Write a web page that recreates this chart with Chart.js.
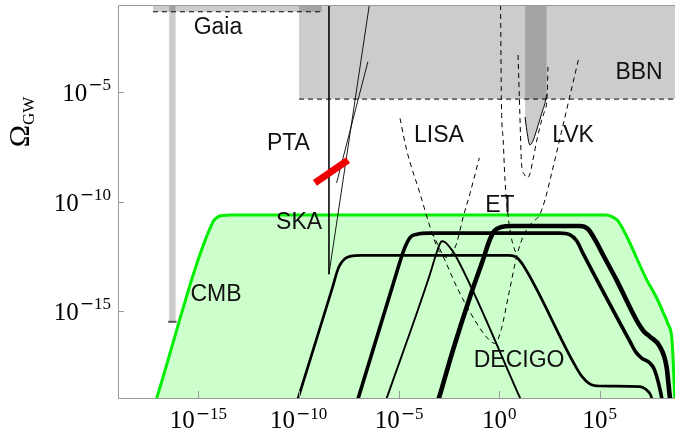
<!DOCTYPE html>
<html><head><meta charset="utf-8">
<script src="https://cdn.jsdelivr.net/npm/chart.js@4.4.1/dist/chart.umd.min.js"></script>
<style>html,body{margin:0;padding:0;background:#fff;}canvas{display:block;}</style>
</head><body>
<canvas id="c" width="675" height="430"></canvas>
<script>
// All values are log10(f / Hz) and log10(Omega_GW)
const xTickExp = [-15, -10, -5, 0, 5];
const yTickExp = [-15, -10, -5];

const cmbLogF = [-17.3, -17.07, -14.27, -14.07, -13.82, -13.42, 5.31, 5.6, 5.91, 7.35, 7.84, 8.15, 8.40, 8.60, 8.75, 8.8];
const cmbLogO = [-19.7, -19.0, -10.93, -10.73, -10.64, -10.62, -10.62, -10.69, -10.89, -13.6, -14.42, -15.06, -15.61, -16.34, -19.1, -19.7];

const s1LogF = [-10.2, -10.02, -8.35, -8.0, -7.7, -7.4, -6.9, 0.5, 0.86, 1.18, 3.67, 4.1, 4.5, 5.0, 7.0, 7.3, 7.5, 7.59, 7.7];
const s1LogO = [-19.55, -19.0, -14.05, -13.0, -12.62, -12.5, -12.47, -12.47, -12.56, -12.91, -17.34, -18.0, -18.35, -18.45, -18.48, -18.6, -18.8, -19.0, -19.5];

const s2LogF = [-7.2, -7.03, -5.2, -4.75, -4.45, -4.1, -3.5, 3.0, 3.5, 3.85, 4.18, 6.51, 6.8, 7.09, 7.5, 7.7, 7.84, 8.0, 8.09, 8.2];
const s2LogO = [-19.5, -19.0, -13.5, -12.2, -11.65, -11.5, -11.45, -11.45, -11.52, -11.8, -12.4, -16.42, -16.9, -17.17, -17.4, -17.65, -18.02, -18.6, -19.0, -19.6];

const s3LogF = [-5.8, -5.61, -3.5, -3.2, -3.0, -2.87, -2.7, -2.45, -2.2, 1.03, 1.25];
const s3LogO = [-19.5, -19.0, -13.45, -12.55, -12.02, -11.82, -11.87, -12.12, -12.45, -19.0, -19.45];

const s4LogF = [-3.2, -3.01, -2.31, -1.46, -0.82, -0.5, -0.25, 0.1, 0.6, 4.0, 4.4, 4.8, 5.17, 5.84, 6.91, 7.2, 7.5, 8.0, 8.33, 8.5, 8.6];
const s4LogO = [-19.55, -19.0, -16.8, -14.36, -12.68, -11.8, -11.35, -11.17, -11.12, -11.12, -11.25, -11.8, -12.45, -13.6, -15.56, -15.95, -16.19, -16.65, -17.57, -19.0, -19.6];

const lisaLogF = [-4.95, -4.62, -3.96, -3.38, -3.05, -2.78, -2.55, -2.35, -2.13, -1.80, -1.46, -1.0];
const lisaLogO = [-6.19, -7.64, -9.62, -11.38, -12.2, -12.5, -12.56, -12.35, -11.91, -10.70, -9.62, -8.0];

const decigoLogF = [-3.36, -2.79, -2.05, -1.13, -0.6, -0.22, 0.08, 0.48, 0.88, 1.18, 1.61, 2.0, 2.27, 2.61, 2.92, 3.97];
const decigoLogO = [-11.40, -12.53, -14.05, -15.58, -16.25, -16.5, -15.9, -14.19, -12.45, -11.61, -10.98, -10.62, -9.93, -8.69, -7.49, -3.38];

const etLogF = [0.06, 0.10, 0.19, 0.28, 0.44, 0.58, 0.73, 0.88];
const etLogO = [-1.0, -5.35, -7.18, -9.02, -10.70, -11.58, -12.13, -12.45];

const lvkDesignLogF = [0.93, 1.0, 1.11, 1.23, 1.38, 1.52, 1.67, 1.87, 2.11, 2.27, 2.38, 2.42];
const lvkDesignLogO = [-3.29, -5.35, -8.33, -8.74, -8.92, -8.74, -8.10, -7.18, -6.27, -5.8, -5.2, -3.84];

const lvkO3LogF = [1.28, 1.33, 1.40, 1.52, 1.66, 1.86, 2.11, 2.27, 2.36];
const lvkO3LogO = [-6.13, -6.5, -6.95, -7.41, -7.25, -6.72, -5.96, -5.5, -5.1];

const skaALogF = [-8.49, -8.49], skaALogO = [-1.0, -13.33];
const skaBLogF = [-8.49, -6.48], skaBLogO = [-13.33, -1.0];
const skaCLogF = [-8.11, -6.55], skaCLogO = [-9.15, -3.60];

const ptaLogF = [-9.19, -7.54], ptaLogO = [-9.15, -8.10];

const gaiaLogF = [-17.26, -8.84], gaiaLogO = [-1.31, -1.31];
const bbnLogF = [-9.98, 9.5], bbnLogO = [-5.31, -5.31];
const bandLogF = [-16.29, -16.29], bandLogO = [-15.51, 0];
const bandEndLogF = [-16.5, -16.08], bandEndLogO = [-15.51, -15.51];

const labelText = ['Gaia', 'BBN', 'PTA', 'LISA', 'LVK', 'ET', 'SKA', 'CMB', 'DECIGO'];
const labelLogF = [-14.02, 6.96, -10.51, -3.01, 3.67, 0.03, -9.98, -14.12, 0.98];
const labelLogO = [-2.04, -4.09, -7.34, -7.0, -7.0, -10.21, -10.98, -14.26, -17.31];

const P = (fs, os) => fs.map((f, i) => ({x: Math.pow(10, f), y: Math.pow(10, os[i])}));
const GRAY = 'rgba(0,0,0,0.2)';

function ds(data, o) {
  return Object.assign({
    type: 'line', data, pointRadius: 0, borderWidth: 1, borderColor: '#000',
    backgroundColor: 'transparent', fill: false, tension: 0, clip: 0,
    borderJoinStyle: 'round', borderCapStyle: 'butt', order: 5
  }, o);
}
const smooth = {cubicInterpolationMode: 'monotone'};
const dash = {borderDash: [5, 4]};

const lvkFillF = [lvkO3LogF[0]].concat(lvkO3LogF, [lvkO3LogF[lvkO3LogF.length - 1]]);
const lvkFillO = [-1].concat(lvkO3LogO, [-1]);

const datasets = [
  ds(P(cmbLogF, cmbLogO), Object.assign({borderColor: 'rgb(0,238,0)', borderWidth: 3, backgroundColor: '#ccffcc', fill: 'start', order: 10}, smooth)),
  ds(P(gaiaLogF, gaiaLogO), Object.assign({backgroundColor: GRAY, fill: 'end', order: 9}, dash)),
  ds(P(bbnLogF, bbnLogO), Object.assign({backgroundColor: GRAY, fill: 'end', order: 9}, dash)),
  ds(P(lvkFillF, lvkFillO), {backgroundColor: GRAY, fill: 'end', borderWidth: 0, borderColor: 'transparent', order: 9}),
  ds(P(bandLogF, bandLogO), {borderColor: GRAY, borderWidth: 6.5, order: 9}),
  ds(P(bandEndLogF, bandEndLogO), {borderColor: '#555', borderWidth: 2, order: 3}),
  ds(P(s1LogF, s1LogO), Object.assign({borderWidth: 2.7}, smooth)),
  ds(P(s2LogF, s2LogO), Object.assign({borderWidth: 3.6}, smooth)),
  ds(P(s3LogF, s3LogO), Object.assign({borderWidth: 1.9}, smooth)),
  ds(P(s4LogF, s4LogO), Object.assign({borderWidth: 4.6}, smooth)),
  ds(P(lisaLogF, lisaLogO), Object.assign({order: 4}, smooth, dash)),
  ds(P(decigoLogF, decigoLogO), Object.assign({order: 4}, smooth, dash)),
  ds(P(etLogF, etLogO), Object.assign({order: 4}, smooth, dash)),
  ds(P(lvkDesignLogF, lvkDesignLogO), Object.assign({order: 4}, smooth, dash)),
  ds(P(lvkO3LogF, lvkO3LogO), Object.assign({order: 4}, smooth)),
  ds(P(skaALogF, skaALogO), {order: 4, borderWidth: 0.8}),
  ds(P(skaBLogF, skaBLogO), {order: 4, borderWidth: 0.9}),
  ds(P(skaCLogF, skaCLogO), {order: 4, borderWidth: 0.9}),
  ds(P(ptaLogF, ptaLogO), {borderColor: '#ee0000', borderWidth: 7, order: 1})
];

const deco = {
  id: 'deco',
  afterDatasetsDraw(chart) {
    const {ctx, chartArea: a, scales: {x, y}} = chart;
    ctx.save();
    ctx.strokeStyle = '#999'; ctx.lineWidth = 1;
    ctx.beginPath();
    ctx.moveTo(a.left + 0.5, a.bottom + 0.5); ctx.lineTo(a.left + 0.5, a.top + 0.5); ctx.lineTo(a.right, a.top + 0.5);
    ctx.moveTo(a.left, a.bottom + 0.5); ctx.lineTo(a.right, a.bottom + 0.5);
    yTickExp.forEach(e => { const ty = Math.round(y.getPixelForValue(Math.pow(10, e))) + 0.5; ctx.moveTo(a.left, ty); ctx.lineTo(a.left + 6, ty); });
    xTickExp.forEach(e => { const tx = Math.round(x.getPixelForValue(Math.pow(10, e))) + 0.5; ctx.moveTo(tx, a.bottom); ctx.lineTo(tx, a.bottom - 7); });
    ctx.stroke();

    const baseFont = '25px "Liberation Serif", "Times New Roman", serif';
    const supFont = '17px "Liberation Serif", "Times New Roman", serif';
    const minusFont = '17px "DejaVu Serif", serif';
    ctx.fillStyle = '#000'; ctx.textBaseline = 'alphabetic'; ctx.textAlign = 'left';
    function parts(e) {
      ctx.font = baseFont; const wb = ctx.measureText('10').width;
      let wm = 0;
      if (e < 0) { ctx.font = minusFont; wm = ctx.measureText('\u2212').width; }
      ctx.font = supFont; const wd = ctx.measureText(String(Math.abs(e))).width;
      return {wb, wm, wd, w: wb + 1 + wm + wd};
    }
    function drawPow(e, xs, base, supBase) {
      const p = parts(e);
      ctx.font = baseFont; ctx.fillText('10', xs, base);
      let xx = xs + p.wb + 1;
      if (e < 0) { ctx.font = minusFont; ctx.fillText('\u2212', xx, supBase); xx += p.wm; }
      ctx.font = supFont; ctx.fillText(String(Math.abs(e)), xx, supBase);
    }
    yTickExp.forEach(e => {
      const ty = y.getPixelForValue(Math.pow(10, e));
      const p = parts(e);
      drawPow(e, a.left - 7 - p.w, ty + 9, ty - 2);
    });
    xTickExp.forEach(e => {
      const tx = x.getPixelForValue(Math.pow(10, e));
      const p = parts(e);
      drawPow(e, tx - p.w / 2, a.bottom + 30, a.bottom + 21);
    });

    // axis title
    ctx.save();
    ctx.translate(29, 122); ctx.rotate(-Math.PI / 2);
    const oFont = '30px "Liberation Serif", "Times New Roman", serif';
    const gFont = '17px "Liberation Serif", "Times New Roman", serif';
    ctx.font = oFont; const wO = ctx.measureText('\u03A9').width;
    ctx.font = gFont; const wG = ctx.measureText('GW').width;
    const s = -(wO + wG) / 2;
    ctx.font = oFont; ctx.fillText('\u03A9', s, 0);
    ctx.font = gFont; ctx.fillText('GW', s + wO, 5);
    ctx.restore();

    ctx.font = '23px "Liberation Sans", Arial, sans-serif';
    ctx.textAlign = 'center'; ctx.textBaseline = 'middle'; ctx.fillStyle = '#111';
    labelText.forEach((t, i) => {
      ctx.fillText(t, x.getPixelForValue(Math.pow(10, labelLogF[i])), y.getPixelForValue(Math.pow(10, labelLogO[i])));
    });
    ctx.restore();
  }
};

new Chart(document.getElementById('c'), {
  type: 'line',
  data: {datasets},
  options: {
    responsive: false, animation: false, events: [],
    layout: {padding: {top: 5, left: 0, right: 0, bottom: 0}},
    plugins: {legend: {display: false}, tooltip: {enabled: false}},
    scales: {
      x: {type: 'logarithmic', min: 1e-19, max: Math.pow(10, 8.75),
          ticks: {display: false}, grid: {display: false}, border: {display: false},
          afterFit(s) { s.height = 32; }},
      y: {type: 'logarithmic', min: 1e-19, max: 1e-1,
          ticks: {display: false}, grid: {display: false}, border: {display: false},
          afterFit(s) { s.width = 118; }}
    }
  },
  plugins: [deco]
});
</script>
</body></html>
